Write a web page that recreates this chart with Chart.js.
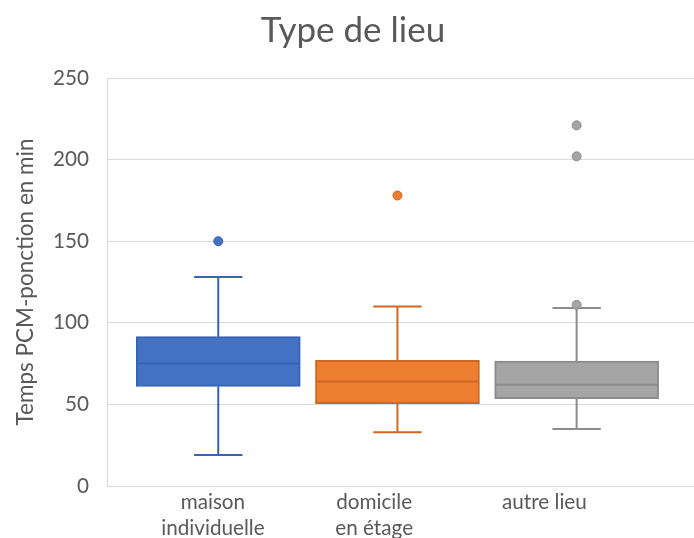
<!DOCTYPE html>
<html lang="fr">
<head>
    <meta charset="UTF-8">
    <title>Type de lieu</title>
    <script src="https://cdn.jsdelivr.net/npm/chart.js@4.4.0/dist/chart.umd.min.js"></script>
    <style>
        html, body {
            margin: 0;
            padding: 0;
            background: #fff;
            overflow: hidden;
        }
        .chart-container {
            width: 694px;
            height: 538px;
        }
    </style>
</head>
<body>
    <div class="chart-container">
        <canvas id="boxChart"></canvas>
    </div>

    <script>
        // Data
        const categories = [['maison', 'individuelle'], ['domicile', 'en étage'], ['autre lieu']];
        const q1 = [61, 50.5, 53.5];
        const median = [75, 64, 62];
        const q3 = [91.5, 77, 76.5];
        const whiskerLow = [19, 33, 35];
        const whiskerHigh = [128, 110, 109];
        const outliers = [[150], [178], [221, 202, 111]];
        const yTicks = [0, 50, 100, 150, 200, 250];

        // Styles
        const fills = ['#4472c4', '#ed7d31', '#a5a5a5'];
        const edges = ['#3763b3', '#d0671f', '#8c8c8c'];
        const textColor = '#595959';
        const gridColor = '#d9d9d9';
        const fontFamily = 'Lato, "Open Sans", sans-serif';
        const capHalf = 0.135;     // whisker cap half width (x units)
        const boxHalf = 0.452;     // median line half width (x units)
        const labelPos = [-0.03, 0.87, 1.82];  // where Excel put the category labels

        // Build whisker + median segments for one box, gaps split with y:null
        function boxLines(i) {
            const gap = { x: i, y: null };
            return [
                { x: i, y: q3[i] }, { x: i, y: whiskerHigh[i] }, gap,
                { x: i - capHalf, y: whiskerHigh[i] }, { x: i + capHalf, y: whiskerHigh[i] }, gap,
                { x: i, y: q1[i] }, { x: i, y: whiskerLow[i] }, gap,
                { x: i - capHalf, y: whiskerLow[i] }, { x: i + capHalf, y: whiskerLow[i] }, gap,
                { x: i - boxHalf, y: median[i] }, { x: i + boxHalf, y: median[i] }
            ];
        }

        const datasets = [];

        // Outlier points (drawn on top)
        outliers.forEach((vals, i) => {
            datasets.push({
                type: 'scatter',
                data: vals.map(v => ({ x: i, y: v })),
                backgroundColor: fills[i],
                borderColor: edges[i],
                borderWidth: 1,
                pointRadius: 4.5,
                order: 0
            });
        });

        // Whiskers and medians
        categories.forEach((c, i) => {
            datasets.push({
                type: 'line',
                data: boxLines(i),
                borderColor: edges[i],
                borderWidth: 2,
                pointRadius: 0,
                spanGaps: false,
                tension: 0,
                order: 1
            });
        });

        // Boxes as floating bars from Q1 to Q3
        datasets.push({
            type: 'bar',
            data: categories.map((c, i) => ({ x: i, y: [q1[i], q3[i]] })),
            backgroundColor: fills,
            borderColor: edges,
            borderWidth: 2,
            borderSkipped: false,
            barThickness: 164,
            order: 2
        });

        new Chart(document.getElementById('boxChart'), {
            data: { datasets: datasets },
            options: {
                responsive: true,
                maintainAspectRatio: false,
                animation: false,
                layout: {
                    autoPadding: false,  // points' overflow was eating 6px on the right
                    padding: { left: 12, right: 0, top: 0, bottom: 0 }
                },
                plugins: {
                    legend: { display: false },
                    tooltip: { enabled: false },
                    title: {
                        display: true,
                        text: 'Type de lieu',
                        color: textColor,
                        font: { family: fontFamily, size: 35, weight: 'normal' },
                        padding: { top: 10, bottom: 26 }
                    }
                },
                scales: {
                    x: {
                        type: 'linear',
                        offset: false,
                        min: -0.621,
                        max: 2.655,
                        grid: { display: false, drawTicks: false },
                        border: { display: false },
                        afterBuildTicks: scale => {
                            scale.ticks = labelPos.map(v => ({ value: v }));
                        },
                        afterFit: scale => { scale.height = 52; },
                        ticks: {
                            color: textColor,
                            font: { family: fontFamily, size: 20.7, lineHeight: 1.26 },
                            padding: 3,
                            maxRotation: 0,
                            autoSkip: false,
                            callback: (value, index) => categories[index]
                        }
                    },
                    y: {
                        min: 0,
                        max: 250,
                        afterBuildTicks: scale => {
                            scale.ticks = yTicks.map(v => ({ value: v }));
                        },
                        afterFit: scale => { scale.width = 95; },
                        grid: { color: gridColor, lineWidth: 1, drawTicks: false },
                        border: { display: true, color: gridColor, width: 1 },
                        ticks: {
                            color: textColor,
                            font: { family: fontFamily, size: 20.7 },
                            padding: 18
                        },
                        title: {
                            display: true,
                            text: 'Temps PCM-ponction en min',
                            color: textColor,
                            font: { family: fontFamily, size: 22.5 },
                            padding: { top: 0, bottom: 0 }
                        }
                    }
                }
            }
        });
    </script>
</body>
</html>
